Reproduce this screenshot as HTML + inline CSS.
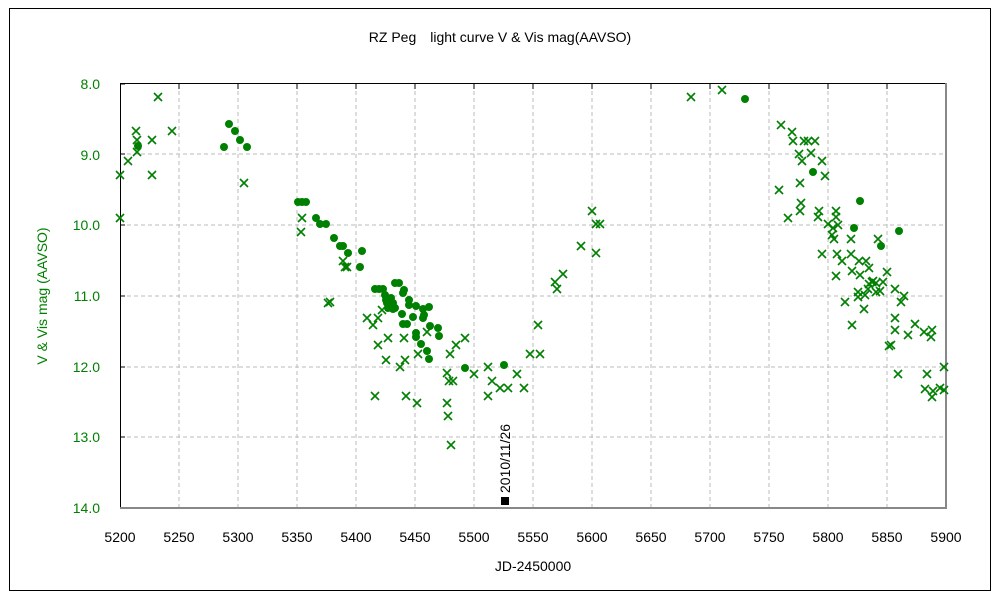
<!DOCTYPE html>
<html><head><meta charset="utf-8"><style>
body{margin:0;background:#fff;}
svg text{font-family:"Liberation Sans","Noto Sans CJK JP",sans-serif;}
</style></head><body>
<svg width="1000" height="600" xmlns="http://www.w3.org/2000/svg">
<rect x="9.5" y="8.5" width="981" height="582" fill="#fff" stroke="#000" stroke-width="1"/>
<text x="500" y="42" font-size="14" text-anchor="middle" fill="#000">RZ Peg　light curve  V &amp; Vis mag(AAVSO)</text>
<g stroke="#bbb" stroke-dasharray="4,3" stroke-width="1">
<line x1="179" y1="84" x2="179" y2="508"/><line x1="238" y1="84" x2="238" y2="508"/><line x1="297" y1="84" x2="297" y2="508"/>
<line x1="356" y1="84" x2="356" y2="508"/><line x1="415" y1="84" x2="415" y2="508"/><line x1="474" y1="84" x2="474" y2="508"/>
<line x1="533" y1="84" x2="533" y2="508"/><line x1="592" y1="84" x2="592" y2="508"/><line x1="651" y1="84" x2="651" y2="508"/>
<line x1="710" y1="84" x2="710" y2="508"/><line x1="769" y1="84" x2="769" y2="508"/><line x1="828" y1="84" x2="828" y2="508"/>
<line x1="887" y1="84" x2="887" y2="508"/>
<line x1="120" y1="154" x2="946" y2="154"/><line x1="120" y1="225" x2="946" y2="225"/><line x1="120" y1="296" x2="946" y2="296"/>
<line x1="120" y1="367" x2="946" y2="367"/><line x1="120" y1="437" x2="946" y2="437"/>
</g>
<line x1="120" y1="83.5" x2="946" y2="83.5" stroke="#000"/>
<line x1="120.5" y1="83" x2="120.5" y2="508" stroke="#000"/>
<line x1="120" y1="508" x2="947" y2="508" stroke="#888" stroke-width="2"/>
<line x1="946" y1="83" x2="946" y2="508" stroke="#888" stroke-width="2"/>
<g stroke="#000">
<line x1="120" y1="84" x2="125" y2="84"/><line x1="120" y1="154" x2="125" y2="154"/><line x1="120" y1="225" x2="125" y2="225"/><line x1="120" y1="296" x2="125" y2="296"/><line x1="120" y1="367" x2="125" y2="367"/><line x1="120" y1="437" x2="125" y2="437"/>
<line x1="179" y1="84" x2="179" y2="89"/><line x1="238" y1="84" x2="238" y2="89"/><line x1="297" y1="84" x2="297" y2="89"/><line x1="356" y1="84" x2="356" y2="89"/><line x1="415" y1="84" x2="415" y2="89"/><line x1="474" y1="84" x2="474" y2="89"/><line x1="533" y1="84" x2="533" y2="89"/><line x1="592" y1="84" x2="592" y2="89"/><line x1="651" y1="84" x2="651" y2="89"/><line x1="710" y1="84" x2="710" y2="89"/><line x1="769" y1="84" x2="769" y2="89"/><line x1="828" y1="84" x2="828" y2="89"/><line x1="887" y1="84" x2="887" y2="89"/>
</g>
<g font-size="14" fill="#008000" text-anchor="end">
<text x="100" y="89">8.0</text><text x="100" y="160">9.0</text><text x="100" y="230">10.0</text><text x="100" y="301">11.0</text><text x="100" y="372">12.0</text><text x="100" y="442">13.0</text><text x="100" y="513">14.0</text>
</g>
<g font-size="14" fill="#000" text-anchor="middle">
<text x="120" y="542">5200</text><text x="179" y="542">5250</text><text x="238" y="542">5300</text><text x="297" y="542">5350</text><text x="356" y="542">5400</text><text x="415" y="542">5450</text><text x="474" y="542">5500</text><text x="533" y="542">5550</text><text x="592" y="542">5600</text><text x="651" y="542">5650</text><text x="710" y="542">5700</text><text x="769" y="542">5750</text><text x="828" y="542">5800</text><text x="887" y="542">5850</text><text x="946" y="542">5900</text>
<text x="533" y="571">JD-2450000</text>
</g>
<text transform="translate(47,296) rotate(-90)" font-size="14" fill="#008000" text-anchor="middle">V &amp; Vis mag (AAVSO)</text>
<rect x="501" y="497" width="8" height="8" fill="#000"/>
<text transform="translate(510,493) rotate(-90)" font-size="14" fill="#000">2010/11/26</text>
<g id="pts" fill="#008000"></g>
<g id="crs" stroke="#008000" stroke-width="1.6"></g>
</svg>
<script>
var dots=[[138,146],[224,147],[229,124],[235,131],[240,140],[247,147],[298,202],[302,202],[306,202],[316,218],[320,224],[326,224],[334,238],[340,246],[343,246],[348,253],[362,251],[360,267],[375,289],[379,289],[383,289],[395,283],[399,283],[404,290],[403,293],[385,295],[409,300],[393,303],[409,305],[416,306],[423,309],[429,307],[387,303],[393,309],[388,308],[402,314],[413,317],[424,315],[423,318],[403,324],[407,324],[430,326],[438,328],[416,333],[416,337],[439,336],[421,344],[427,351],[429,359],[465,368],[504,365],[745,99],[813,172],[860,201],[854,228],[899,231],[881,246],[391,298],[395,308],[386,300]];
var crs=[[120,175],[120,218],[128,161],[136,131],[137,140],[137,152],[152,140],[152,175],[158,97],[172,131],[244,183],[302,218],[301,232],[343,261],[347,267],[328,303],
[345,267],[330,302],[367,318],[373,325],[378,318],[382,310],[378,345],[388,338],[404,338],[418,354],[427,332],[450,354],[456,345],[465,338],[386,360],[400,367],[405,360],[447,373],[449,381],[453,381],[474,374],[488,367],[492,381],[488,396],[500,388],[508,388],[517,374],[524,388],[538,325],[530,354],[540,354],[563,274],[555,282],[557,289],[375,396],[406,396],[417,403],[447,403],[448,416],[451,445],
[581,246],[592,211],[596,224],[600,224],[596,253],[691,97],[722,90],[781,125],[792,132],[793,141],[804,141],[808,141],[815,141],[799,154],[811,153],[802,161],[822,161],[825,176],[800,183],[779,190],[801,203],[788,218],[800,211],[819,211],[818,217],[836,211],[836,217],[828,224],[833,228],[834,239],[838,225],[832,235],[851,239],[878,239],[822,254],[851,254],[837,254],[842,261],[859,261],[866,261],[869,268],[852,271],[836,276],[860,275],[887,272],[869,284],[873,281],[868,289],[876,283],[858,292],[876,292],[883,282],[880,291],[872,282],[904,296],[901,302],[865,295],[858,297],[845,302],[895,289],[864,309],[895,318],[895,330],[852,325],[891,345],[908,335],[915,324],[931,337],[924,332],[932,330],[889,346],[944,367],[898,374],[927,374],[944,390],[925,389],[933,391],[932,397],[940,388]];
var ns="http://www.w3.org/2000/svg",g=document.getElementById('pts');
dots.forEach(function(p){var c=document.createElementNS(ns,'circle');c.setAttribute('cx',p[0]);c.setAttribute('cy',p[1]);c.setAttribute('r',4);g.appendChild(c);});
var h=document.getElementById('crs');
crs.forEach(function(p){var e=document.createElementNS(ns,'path');var x=p[0],y=p[1];e.setAttribute('d','M'+(x-4)+' '+(y-4)+'L'+(x+4)+' '+(y+4)+'M'+(x+4)+' '+(y-4)+'L'+(x-4)+' '+(y+4));h.appendChild(e);});
</script>
</body></html>
